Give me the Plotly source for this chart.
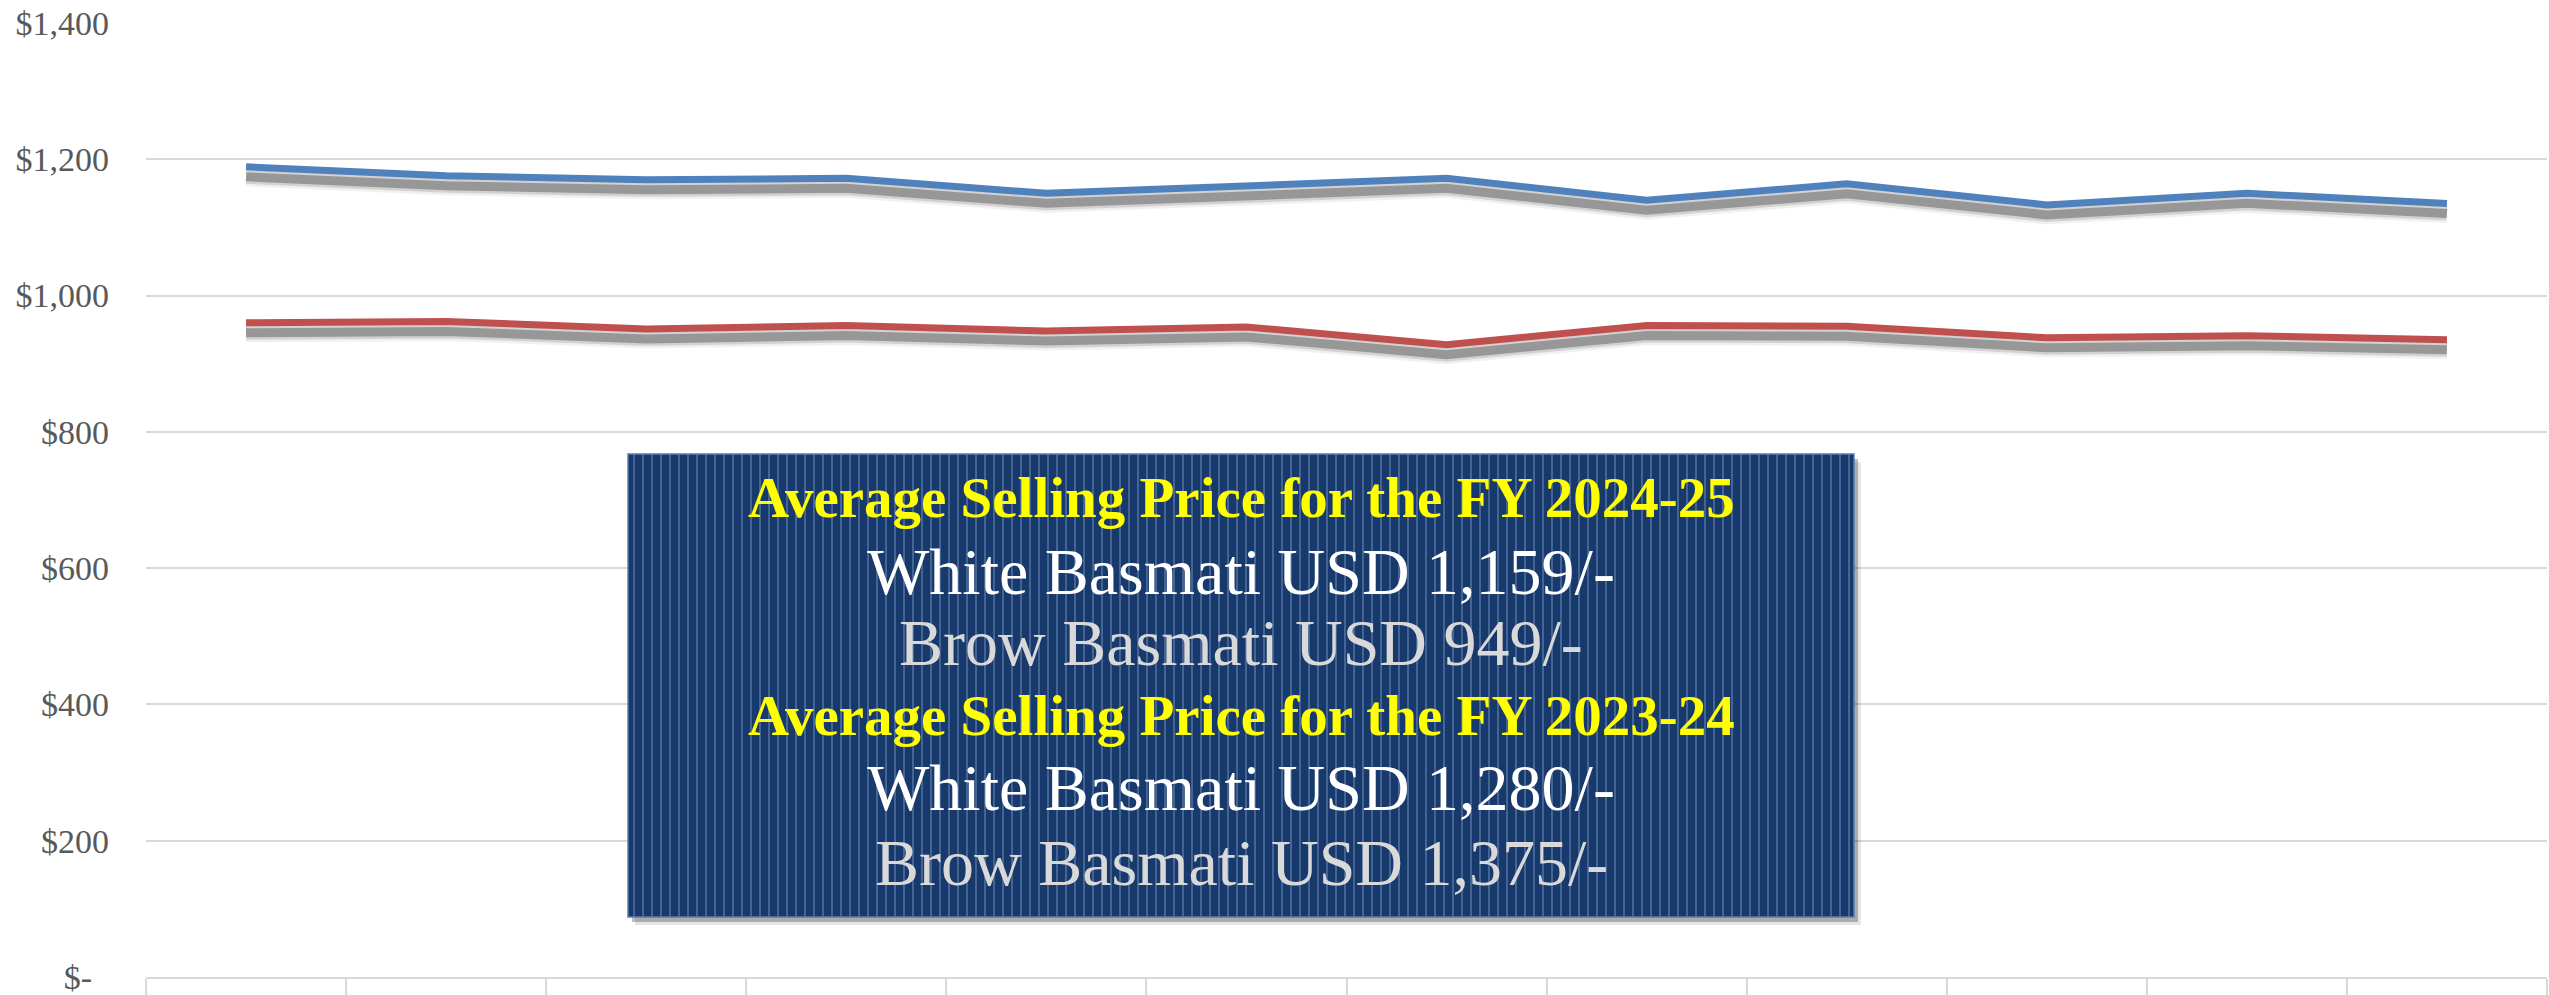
import plotly.graph_objects as go

# ---------------- data ----------------
months = ["Apr-24", "May-24", "Jun-24", "Jul-24", "Aug-24", "Sep-24",
          "Oct-24", "Nov-24", "Dec-24", "Jan-25", "Feb-25", "Mar-25"]
white_basmati = [1189, 1176, 1170, 1172, 1150, 1160, 1172, 1140, 1164, 1133, 1150, 1135]
brown_basmati = [960, 962, 951, 956, 948, 954, 928, 956, 955, 938, 941, 935]
y_tick_values = [0, 200, 400, 600, 800, 1000, 1200, 1400]
y_tick_labels = ["$-\u00a0\u00a0", "$200", "$400", "$600", "$800", "$1,000", "$1,200", "$1,400"]
box_lines = [
    ("Average Selling Price for the FY 2024-25", "title"),
    ("White Basmati USD 1,159/-", "white"),
    ("Brow Basmati USD 949/-", "brown"),
    ("Average Selling Price for the FY 2023-24", "title"),
    ("White Basmati USD 1,280/-", "white"),
    ("Brow Basmati USD 1,375/-", "brown"),
]

# ---------------- layout geometry ----------------
W, H = 2549, 995
PLOT_L, PLOT_R, PLOT_T, PLOT_B = 146, 2547, 23, 977
Y_MAX = 1400
SHADOW_PX = 10
shadow_offset = SHADOW_PX * Y_MAX / (PLOT_B - PLOT_T)

def px_x(px):
    return (px - PLOT_L) / (PLOT_R - PLOT_L)

def px_y(py):
    return (PLOT_B - py) / (PLOT_B - PLOT_T)

FONT = "Liberation Serif"
BLUE = "#4F81BD"
RED = "#C0504D"

fig = go.Figure()

# soft drop shadows below the lines
for series in (white_basmati, brown_basmati):
    sh = [v - shadow_offset for v in series]
    for width, alpha in ((19, 0.06), (14, 0.12), (9, 0.28)):
        fig.add_trace(go.Scatter(
            x=months, y=sh, mode="lines",
            line=dict(color=f"rgba(0,0,0,{alpha})", width=width),
            hoverinfo="skip", showlegend=False))

fig.add_trace(go.Scatter(x=months, y=white_basmati, mode="lines", name="White Basmati",
                         line=dict(color=BLUE, width=7)))
fig.add_trace(go.Scatter(x=months, y=brown_basmati, mode="lines", name="Brown Basmati",
                         line=dict(color=RED, width=7)))

# ---------------- text box ----------------
bx0, bx1, by0, by1 = 628, 1854, 454, 917
shapes = []
shapes.append(dict(type="rect", xref="paper", yref="paper",
                   x0=px_x(bx0 + 7), x1=px_x(bx1 + 7), y0=px_y(by1 + 8), y1=px_y(by0 + 8),
                   fillcolor="rgba(0,0,0,0.10)", line=dict(width=0), layer="above"))
shapes.append(dict(type="rect", xref="paper", yref="paper",
                   x0=px_x(bx0 + 4), x1=px_x(bx1 + 4), y0=px_y(by1 + 5), y1=px_y(by0 + 5),
                   fillcolor="rgba(0,0,0,0.25)", line=dict(width=0), layer="above"))
shapes.append(dict(type="rect", xref="paper", yref="paper",
                   x0=px_x(bx0), x1=px_x(bx1), y0=px_y(by1), y1=px_y(by0),
                   fillcolor="#17396B", line=dict(width=0), layer="above"))
sx = bx0 + 6
while sx < bx1 - 2:
    shapes.append(dict(type="line", xref="paper", yref="paper",
                       x0=px_x(sx), x1=px_x(sx), y0=px_y(by1), y1=px_y(by0),
                       line=dict(color="rgba(125,155,200,0.5)", width=1.8), layer="above"))
    sx += 9
shapes.append(dict(type="rect", xref="paper", yref="paper",
                   x0=px_x(bx0), x1=px_x(bx1), y0=px_y(by1), y1=px_y(by0),
                   fillcolor="rgba(0,0,0,0)", line=dict(color="#5A7DAE", width=1.5), layer="above"))

annotations = []
line_y = [497, 571, 642, 715, 787, 862]
styles = {
    "title": dict(color="#FFFF00", size=57, bold=True),
    "white": dict(color="#FFFFFF", size=66, bold=False),
    "brown": dict(color="#D9D9D9", size=66, bold=False),
}
cx = (bx0 + bx1) / 2
for (txt, kind), yy in zip(box_lines, line_y):
    st = styles[kind]
    annotations.append(dict(
        xref="paper", yref="paper", x=px_x(cx), y=px_y(yy),
        xanchor="center", yanchor="middle", showarrow=False,
        text=f"<b>{txt}</b>" if st["bold"] else txt,
        font=dict(family=FONT, size=st["size"], color=st["color"])))

fig.update_layout(
    template="none",
    width=W, height=H,
    margin=dict(l=PLOT_L, r=W - PLOT_R, t=PLOT_T, b=H - PLOT_B, pad=0),
    paper_bgcolor="white", plot_bgcolor="white",
    showlegend=False,
    shapes=shapes,
    annotations=annotations,
    font=dict(family=FONT),
)
fig.update_xaxes(
    type="category", categoryorder="array", categoryarray=months,
    range=[-0.5, len(months) - 0.5], autorange=False,
    showgrid=False, zeroline=False,
    showline=True, linecolor="#D9D9D9", linewidth=2,
    ticks="outside", tickson="boundaries", ticklen=24, tickwidth=2, tickcolor="#D9D9D9",
    showticklabels=False, automargin=False,
)
fig.update_yaxes(
    range=[0, Y_MAX], autorange=False, tickmode="array", tickvals=y_tick_values, ticktext=y_tick_labels,
    showgrid=True, gridcolor="#D9D9D9", gridwidth=2, zeroline=False, showline=False,
    ticks="", ticklabelstandoff=36, ticklabeloverflow="allow",
    tickfont=dict(family=FONT, size=34, color="#595959"), automargin=False,
)

fig.write_html("out.html",
               config={"displayModeBar": False},
               post_script="document.body.style.margin='0';document.body.style.overflow='hidden';")
